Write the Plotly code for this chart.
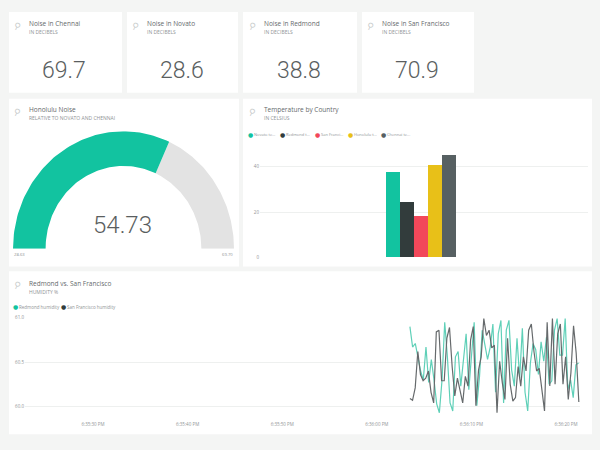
import numpy as np
import pandas as pd
import plotly.graph_objects as go

PAGE_BG = '#f4f5f4'
TEAL = '#12c3a0'
TEXT = '#666a6c'
MUTED = '#909496'
FONT = 'Open Sans'
NUM_FONT = 'Roboto'

# noise tiles
tile_titles = ['Noise in Chennai', 'Noise in Novato', 'Noise in Redmond', 'Noise in San Francisco']
tile_values = ['69.7', '28.6', '38.8', '70.9']

# gauge
gauge_min = 28.63
gauge_max = 69.70
gauge_value = 54.73

# bars
bar_names = ['Novato te...', 'Redmond t...', 'San Franci...', 'Honolulu t...', 'Chennai te...']
bar_values = [37.8, 24.3, 18.3, 40.9, 45.2]
bar_colors = [TEAL, '#323c3c', '#f2485a', '#e8c018', '#576062']

# humidity lines
redmond_humidity = [60.90, 60.67, 60.71, 60.56, 60.40, 60.30, 60.67, 60.27, 60.53, 60.30, 60.03, 59.93, 60.30,
                    60.95, 60.56, 60.04, 59.95, 60.56, 60.62, 60.23, 60.56, 60.82, 60.19, 60.60, 60.95, 60.01,
                    60.34, 60.86, 60.71, 60.53, 60.67, 60.93, 60.16, 60.82, 60.97, 60.04, 60.86, 60.97, 60.41,
                    60.23, 60.77, 60.32, 60.88, 60.16, 59.95, 60.49, 60.71, 60.64, 60.36, 60.73, 60.51, 60.78,
                    60.25, 60.29, 60.86, 60.99, 60.58, 60.58, 60.99, 60.19, 60.30, 60.10, 60.47, 60.49]
san_francisco_humidity = [60.09, 60.07, 60.21, 60.62, 60.36, 60.29, 60.32, 60.40, 60.16, 60.04, 60.84, 60.86, 60.29,
                          60.29, 60.77, 60.89, 60.45, 60.12, 60.32, 60.16, 60.04, 60.34, 60.23, 60.75, 60.90, 60.01,
                          60.41, 60.56, 60.99, 60.80, 60.86, 60.66, 60.69, 59.93, 60.51, 60.27, 60.08, 60.77, 60.25,
                          60.06, 60.10, 60.45, 60.23, 60.56, 60.40, 60.86, 60.93, 60.62, 60.40, 60.43, 60.16, 59.95,
                          60.95, 60.23, 60.99, 60.25, 60.82, 60.93, 60.25, 60.56, 60.08, 60.38, 60.91, 60.60, 60.05]
redmond_times = pd.date_range('2016-01-01 18:36:03.5', periods=len(redmond_humidity), freq='283ms')
san_francisco_times = pd.date_range('2016-01-01 18:36:03.5', periods=len(san_francisco_humidity), freq='279ms')
time_ticks = pd.date_range('2016-01-01 18:35:30', periods=6, freq='10s')
time_labels = ['6:35:30 PM', '6:35:40 PM', '6:35:50 PM', '6:36:00 PM', '6:36:10 PM', '6:36:20 PM']

W, H = 600, 450


def px(x):
    return x / W


def py(y):
    return 1 - y / H


def arc(start, end, outer=1.0, inner=0.705):
    # ring segment between two gauge values, in unit coordinates
    a = np.pi * (1 - (np.linspace(start, end, 80) - gauge_min) / (gauge_max - gauge_min))
    x = np.concatenate([outer * np.cos(a), inner * np.cos(a[::-1]), [outer * np.cos(a[0])]])
    y = np.concatenate([outer * np.sin(a), inner * np.sin(a[::-1]), [outer * np.sin(a[0])]])
    return x, y


def add_card(fig, x0, y0, x1, y1):
    fig.add_shape(type='rect', xref='paper', yref='paper', x0=px(x0), x1=px(x1), y0=py(y0), y1=py(y1),
                  fillcolor='white', line_width=0, layer='below')


def add_text(fig, x, y, text, size, color=TEXT, family=FONT, anchor='left', angle=0, weight=None):
    fig.add_annotation(xref='paper', yref='paper', x=px(x), y=py(y), text=text, showarrow=False,
                       xanchor=anchor, yanchor='middle', align=anchor, textangle=angle,
                       borderpad=0, font=dict(size=size, color=color, family=family, weight=weight))


def add_heading(fig, x, y, title, subtitle):
    add_text(fig, x, y, title, 6.5)
    add_text(fig, x, y + 8.5, subtitle, 5, color=MUTED)
    # little pin glyph left of the heading
    add_text(fig, x - 11, y + 2, '\u26b2', 9, color='#c8cccc', family='DejaVu Sans', anchor='center', angle=25)


fig = go.Figure()

# cards
for x0, x1 in [(9, 122), (127, 238), (243, 357), (362, 474)]:
    add_card(fig, x0, 9, x1, 91)
add_card(fig, 9, 97, 239, 267)
add_card(fig, 243, 97, 592, 267)
add_card(fig, 9, 272, 592, 437)

# tiles
for i, (title, value) in enumerate(zip(tile_titles, tile_values)):
    left = [28, 146, 263, 381][i]
    add_heading(fig, left, 21, title, 'IN DECIBELS')
    add_text(fig, left + 36, 68, value, 23, color='#5a5e60', family=NUM_FONT, anchor='center', weight=300)

# gauge
x, y = arc(gauge_value, gauge_max)
fig.add_trace(go.Scatter(x=x, y=y, mode='lines', fill='toself', fillcolor='#e3e3e3', line=dict(width=0),
                         xaxis='x', yaxis='y', showlegend=False, hoverinfo='skip'))
x, y = arc(gauge_min, gauge_value)
fig.add_trace(go.Scatter(x=x, y=y, mode='lines', fill='toself', fillcolor=TEAL, line=dict(width=0),
                         xaxis='x', yaxis='y', showlegend=False, hoverinfo='skip'))
add_heading(fig, 28, 108, 'Honolulu Noise', 'RELATIVE TO NOVATO AND CHENNAI')
add_text(fig, 123, 225, str(gauge_value), 24, color='#5a5e60', family=NUM_FONT, anchor='center', weight=300)
add_text(fig, 13, 255, f'{gauge_min:.2f}', 4.2, color=MUTED)
add_text(fig, 234, 255, f'{gauge_max:.2f}', 4.2, color=MUTED, anchor='right')

# gridlines behind the bars span the whole card, so they get their own axis
fig.add_trace(go.Scatter(x=[0, 1], y=[None, None], xaxis='x2', yaxis='y2', showlegend=False, hoverinfo='skip'))

# grouped bars
for name, value, color in zip(bar_names, bar_values, bar_colors):
    fig.add_trace(go.Bar(x=['Temperature'], y=[value], name=name, marker=dict(color=color, line_width=0),
                         xaxis='x4', yaxis='y4', showlegend=False))
add_heading(fig, 263, 108, 'Temperature by Country', 'IN CELSIUS')
legend_x = [250, 282, 317, 350, 383]
for lx, name, color in zip(legend_x, bar_names, bar_colors):
    add_text(fig, lx, 133, '\u25cf', 6, color=color, family='DejaVu Sans', anchor='center')
    add_text(fig, lx + 3, 133, name, 4, color=MUTED)

# humidity lines
fig.add_trace(go.Scatter(x=redmond_times, y=redmond_humidity, mode='lines', name='Redmond humidity',
                         line=dict(color='#5fd0b8', width=1.2), xaxis='x3', yaxis='y3', showlegend=False))
fig.add_trace(go.Scatter(x=san_francisco_times, y=san_francisco_humidity, mode='lines', name='San Francisco humidity',
                         line=dict(color='#666a6c', width=1.2), xaxis='x3', yaxis='y3', showlegend=False))
add_heading(fig, 28, 284, 'Redmond vs. San Francisco', 'HUMIDITY %')
add_text(fig, 15, 308, '\u25cf', 6, color=TEAL, family='DejaVu Sans', anchor='center')
add_text(fig, 18, 308, 'Redmond humidity', 4.5, color=MUTED)
add_text(fig, 63, 308, '\u25cf', 6, color='#323c3c', family='DejaVu Sans', anchor='center')
add_text(fig, 66, 308, 'San Francisco humidity', 4.5, color=MUTED)

tick_font = dict(size=4.5, color=MUTED, family=FONT)
fig.update_layout(
    width=W, height=H,
    margin=dict(l=0, r=0, t=0, b=0),
    paper_bgcolor=PAGE_BG,
    plot_bgcolor='rgba(0,0,0,0)',
    barmode='group',
    bargap=0.0,
    showlegend=False,
    # gauge axes: separate scales, the ring is a bit taller than wide
    xaxis=dict(domain=[px(13), px(234)], range=[-1, 1], visible=False, fixedrange=True),
    yaxis=dict(domain=[py(249), py(130)], range=[0, 1], visible=False, fixedrange=True),
    xaxis2=dict(domain=[px(260), px(588)], range=[0, 1], anchor='y2', visible=False, fixedrange=True),
    yaxis2=dict(domain=[py(258), py(140)], range=[0, 51.3], anchor='x2', tickvals=[0, 20, 40],
                tickfont=tick_font, gridcolor='#eef0ef', zeroline=False, showline=False, ticks='', fixedrange=True),
    xaxis3=dict(domain=[px(25), px(580)], anchor='y3', type='date',
                range=['2016-01-01 18:35:22.81', '2016-01-01 18:36:21.48'],
                tickvals=time_ticks, ticktext=time_labels, tickfont=tick_font,
                showgrid=False, showline=False, zeroline=False, ticks='', fixedrange=True),
    yaxis3=dict(domain=[py(423), py(319)], anchor='x3', range=[59.844, 61.0], tickvals=[60.0, 60.5, 61.0],
                ticktext=['60.0', '60.5', '61.0'], tickfont=tick_font, gridcolor='#eef0ef', gridwidth=1,
                zeroline=False, showline=False, ticks='', fixedrange=True),
    xaxis4=dict(domain=[px(386), px(456)], anchor='y4', visible=False, fixedrange=True),
    yaxis4=dict(domain=[py(258), py(140)], anchor='x4', range=[0, 51.3], visible=False, fixedrange=True),
)

# the page's default body margin would push the 600x450 figure off by 8px
fig.write_html("out.html", config=dict(displayModeBar=False),
               post_script="document.body.style.margin='0';")
